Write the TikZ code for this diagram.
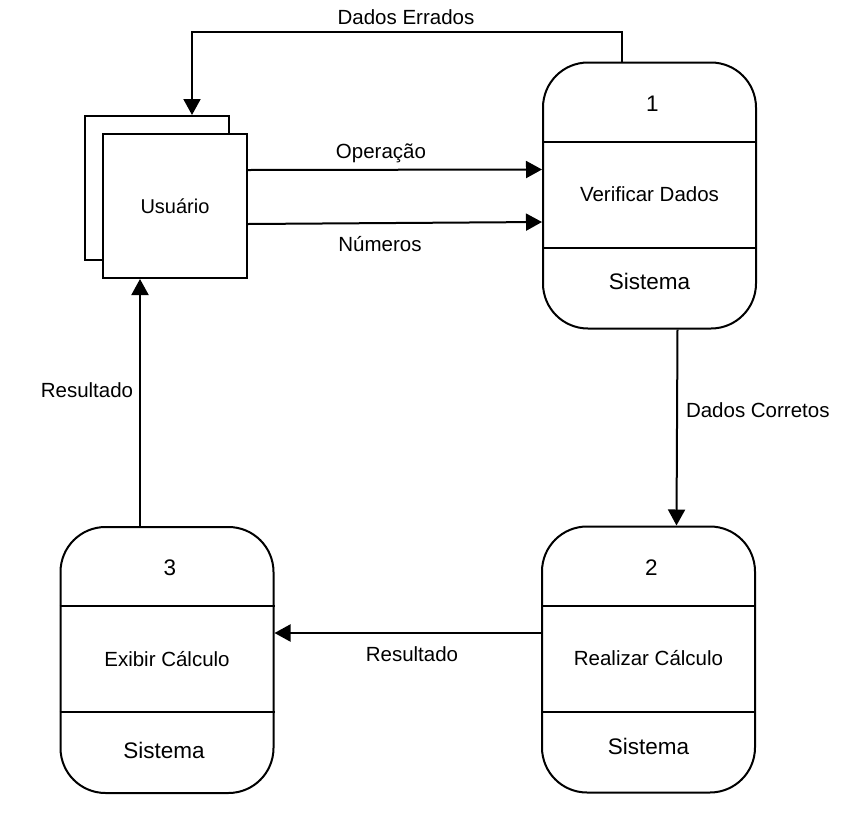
\documentclass[tikz,border=0pt]{standalone}
\usepackage{fontspec}
\setmainfont{Liberation Sans}
\usetikzlibrary{arrows.meta}
\begin{document}
\begin{tikzpicture}[x=1pt,y=-1pt,line width=2pt,
  proc/.style={draw, rounded corners=45pt, minimum width=213pt, minimum height=266pt, inner sep=0pt},
  ent/.style={draw, fill=white, minimum width=144pt, minimum height=144pt, inner sep=0pt, font=\fontsize{20}{24}\selectfont},
  lbl/.style={font=\fontsize{20.5}{24}\selectfont, inner sep=0pt},
  big/.style={font=\fontsize{22.5}{26}\selectfont, inner sep=0pt},
  flow/.style={-{Triangle[length=16pt,width=17pt]}, line width=2pt},
]
\path[use as bounding box] (0,0) rectangle (855,820);
% external entity
\node[ent] (ub) at (157,188) {};
\node[ent] (u) at (175,206) {Usuário};
% processes
\node[proc] (p1) at (649.5,195.5) {};
\node[proc] (p2) at (648.5,659.5) {};
\node[proc] (p3) at (167,660) {};
\foreach \p/\n/\t/\d/\e in {p1/1/Verificar Dados/0/0, p2/2/Realizar Cálculo/1/0, p3/3/Exibir Cálculo/4/-3}{
  \draw ([yshift=-80pt]\p.north west) -- ([yshift=-80pt]\p.north east);
  \draw ([yshift=-186pt]\p.north west) -- ([yshift=-186pt]\p.north east);
  \node[big] (\p n) at ([yshift=-42pt,xshift=3pt]\p.north) {\n};
  \node[lbl] (\p t) at ([yshift=-133pt]\p.north) {\t};
  \node[big] (\p s) at ([yshift=-220pt-\d pt,xshift=\e pt]\p.north) {Sistema};
}
% flows
\draw[flow] ([xshift=80pt]p1.north west) -- ++(0,-30) -| ([xshift=108pt]ub.north west);
\node[lbl] (l1) at (406,17) {Dados Errados};
\draw[flow] ([yshift=36pt]u.east) -- ([yshift=26pt]p1.west);
\node[lbl] (l2) at (381,153) {Operação};
\draw[flow] ([yshift=-18pt]u.east) -- ([yshift=-26.5pt]p1.west);
\node[lbl] (l3) at (380,244) {Números};
\draw[flow] ([xshift=28pt]p1.south) -- ([xshift=28pt]p2.north);
\node[lbl, anchor=west] (l4) at (685,410) {Dados Corretos};
\draw[flow] ([yshift=26.5pt]p2.west) -- ([yshift=27pt]p3.east);
\node[lbl] (l5) at (412,654) {Resultado};
\draw[flow] ([xshift=-27pt]p3.north) -- ([xshift=-35pt]u.south);
\node[lbl] (l6) at (87,390) {Resultado};
\end{tikzpicture}
\end{document}
